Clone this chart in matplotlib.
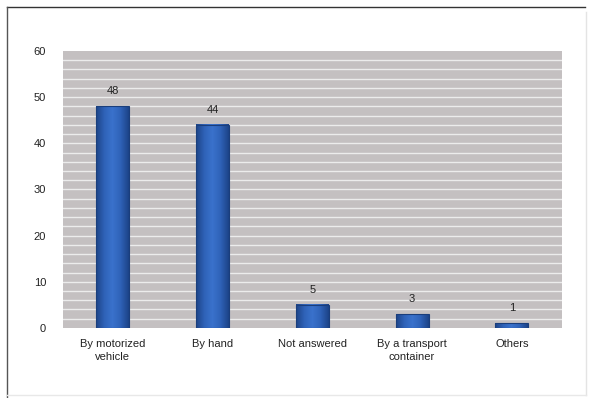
import numpy as np
import matplotlib
matplotlib.use('Agg')
import matplotlib.pyplot as plt
from matplotlib.patches import Rectangle
from matplotlib.lines import Line2D
from matplotlib.colors import LinearSegmentedColormap

categories = ['By motorized\nvehicle', 'By hand', 'Not answered', 'By a transport\ncontainer', 'Others']
values = [48, 44, 5, 3, 1]
y_ticks = [0, 10, 20, 30, 40, 50, 60]

BG = '#c4c0c1'
TXT = '#222222'
bar_cmap = LinearSegmentedColormap.from_list('bar', ['#1d4488', '#2f62b8', '#3a72cc', '#2f62b8', '#1d4488'])

plt.rcParams['font.family'] = ['Liberation Sans', 'DejaVu Sans']

fig = plt.figure(figsize=(5.92, 3.98), dpi=100)
# outer frame: dark top/left, faint right/bottom
fig.add_artist(Line2D([0.012, 0.988], [0.982, 0.982], transform=fig.transFigure, color='#333333', lw=1.0))
fig.add_artist(Line2D([0.012, 0.012], [0.0, 0.982], transform=fig.transFigure, color='#555555', lw=1.0))
fig.add_artist(Line2D([0.99, 0.99], [0.008, 0.97], transform=fig.transFigure, color='#e4e4e4', lw=1.0))
fig.add_artist(Line2D([0.012, 0.99], [0.008, 0.008], transform=fig.transFigure, color='#e8e8e8', lw=1.0))

ax = fig.add_axes([0.106, 0.176, 0.843, 0.696])
ax.set_facecolor(BG)
for s in ax.spines.values():
    s.set_visible(False)

# white minor grid every 2 units
for g in np.arange(2, 60, 2):
    ax.axhline(g, color='#ececec', lw=1.0, zorder=1)

w = 0.33
grad = np.linspace(0, 1, 64).reshape(1, -1)
for i, v in enumerate(values):
    ax.imshow(grad, cmap=bar_cmap, aspect='auto', extent=(i - w / 2, i + w / 2, 0, v), zorder=2)
    ax.add_patch(Rectangle((i - w / 2, 0), w, v, fill=False, edgecolor='#1a3e7c', lw=0.8, zorder=3))
    ax.text(i, v + 2.2, str(v), ha='center', va='bottom', fontsize=8, color=TXT, zorder=4)

ax.set_xlim(-0.5, len(values) - 0.5)
ax.set_ylim(0, 60)
ax.set_yticks(y_ticks)
ax.set_yticklabels([str(t) for t in y_ticks])
ax.set_xticks(range(len(values)))
ax.set_xticklabels(categories, fontsize=8, color=TXT, linespacing=1.4)
ax.tick_params(axis='both', length=0, labelsize=8, colors=TXT)
ax.tick_params(axis='y', pad=12)
ax.tick_params(axis='x', pad=8)

fig.savefig('out.png', dpi=100)
